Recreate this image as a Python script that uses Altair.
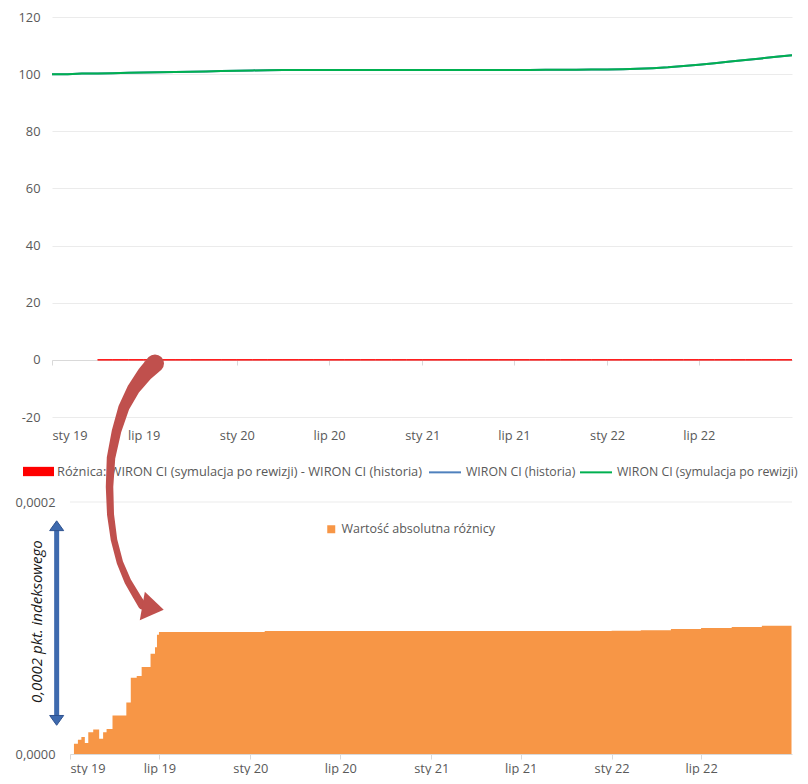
import altair as alt
import pandas as pd

FONT = "Open Sans"
TEXT_GRAY = "#595959"
GRID = "#EBEBEB"
AXIS_GRAY = "#D9D9D9"
RED = "#FF0000"
BLUE = "#4F81BD"
GREEN = "#00B050"
ORANGE = "#F79646"
ARROW_RED = "#C0504D"
ARROW_BLUE = "#3E6AAE"

SERIES_DIFF = "Różnica: WIRON CI (symulacja po rewizji) - WIRON CI (historia)"
SERIES_HIST = "WIRON CI (historia)"
SERIES_SIM = "WIRON CI (symulacja po rewizji)"
SERIES_ABS = "Wartość absolutna różnicy"
NOTE_TEXT = "0,0002 pkt. indeksowego"

# ---- data ----
INDEX_DATES = [d.strftime("%Y-%m-%d") for d in pd.date_range("2019-01-01", "2023-01-01", freq="MS")]
SIM_VALUES = [100.00, 100.00, 100.20, 100.20, 100.35, 100.45, 100.60, 100.65, 100.75, 100.85, 100.95, 101.10,
              101.15, 101.30, 101.40, 101.42, 101.43, 101.44, 101.44, 101.45, 101.45, 101.45, 101.46, 101.46,
              101.46, 101.47, 101.47, 101.47, 101.48, 101.48, 101.48, 101.49, 101.50, 101.52, 101.55, 101.60,
              101.65, 101.75, 101.90, 102.10, 102.40, 102.85, 103.30, 103.85, 104.40, 104.95, 105.50, 106.05, 106.60]
HIST_VALUES = [100.00, 100.00, 100.20, 100.20, 100.35, 100.45, 100.60, 100.65, 100.75, 100.85, 100.95, 101.10,
               101.15, 101.30, 101.40, 101.42, 101.43, 101.44, 101.44, 101.45, 101.45, 101.45, 101.46, 101.46,
               101.46, 101.47, 101.47, 101.47, 101.48, 101.48, 101.48, 101.49, 101.50, 101.52, 101.55, 101.60,
               101.65, 101.75, 101.90, 102.10, 102.40, 102.85, 103.30, 103.85, 104.40, 104.95, 105.50, 106.05, 106.60]

DIFF_DATES = [d.strftime("%Y-%m-%d") for d in pd.date_range("2019-04-01", "2023-01-01", freq="MS")]
DIFF_VALUES = [3.05e-5, 4.09e-5, 6.90e-5, 9.69e-5,
               9.69e-5, 9.69e-5, 9.69e-5, 9.69e-5, 9.69e-5, 9.69e-5,
               9.76e-5, 9.76e-5, 9.76e-5, 9.76e-5, 9.76e-5, 9.76e-5, 9.76e-5, 9.77e-5, 9.77e-5, 9.77e-5,
               9.77e-5, 9.77e-5, 9.77e-5, 9.77e-5, 9.78e-5, 9.78e-5, 9.78e-5, 9.78e-5, 9.78e-5, 9.79e-5,
               9.79e-5, 9.79e-5, 9.79e-5,
               9.79e-5, 9.80e-5, 9.82e-5, 9.87e-5, 9.92e-5, 9.96e-5, 1.000e-4, 1.004e-4, 1.008e-4,
               1.013e-4, 1.018e-4, 1.022e-4, 1.026e-4]

ABS_DATES = ["2019-01-09", "2019-01-17", "2019-01-24", "2019-01-31", "2019-02-07", "2019-02-17",
             "2019-03-01", "2019-03-09", "2019-03-16", "2019-03-28", "2019-04-25", "2019-05-04",
             "2019-05-16", "2019-05-26", "2019-06-13", "2019-06-22", "2019-06-26", "2019-06-30",
             "2020-01-30", "2021-06-01", "2022-01-01", "2022-03-01", "2022-05-01", "2022-07-01",
             "2022-09-01", "2022-11-01", "2022-12-31"]
ABS_VALUES = [8.1e-6, 1.13e-5, 1.34e-5, 8.7e-6, 1.73e-5, 1.94e-5,
              1.21e-5, 1.73e-5, 1.99e-5, 3.05e-5, 4.09e-5, 6.06e-5,
              6.19e-5, 6.90e-5, 7.95e-5, 8.48e-5, 9.47e-5, 9.69e-5,
              9.76e-5, 9.77e-5, 9.79e-5, 9.82e-5, 9.92e-5, 1.000e-4,
              1.008e-4, 1.018e-4, 1.026e-4]

TICK_MONTHS = [(2019, 1), (2019, 7), (2020, 1), (2020, 7), (2021, 1), (2021, 7), (2022, 1), (2022, 7)]
MONTH_LABELS = {1: "sty", 7: "lip"}
TOP_Y_TICKS = [-20, 0, 20, 40, 60, 80, 100, 120]
BOTTOM_Y_TICKS = [0, 0.0002]

# annotations (data coordinates of the lower panel)
BLUE_ARROW_DATE = "2018-12-05"
BLUE_SHAFT = (1.780e-4, 2.99e-5)
BLUE_HEADS = [(1.8118e-4, "M-1,0.7L0,-0.7L1,0.7Z"), (2.669e-5, "M-1,-0.7L0,0.7L1,-0.7Z")]
NOTE_POS = ("2018-10-27", 1.051e-4)
RED_PATH_DATES = ["2019-06-22", "2019-06-02", "2019-05-10", "2019-04-20", "2019-04-05", "2019-03-25",
                  "2019-03-22", "2019-03-24", "2019-03-31", "2019-04-12", "2019-04-28", "2019-05-16",
                  "2019-05-27"]
RED_PATH_VALUES = [3.100e-4, 3.020e-4, 2.900e-4, 2.750e-4, 2.560e-4, 2.350e-4,
                   2.120e-4, 1.900e-4, 1.700e-4, 1.520e-4, 1.370e-4, 1.250e-4, 1.180e-4]
RED_PATH_WIDTH = [18, 15.5, 13, 11, 9.5, 8.5, 7.5, 7, 6.5, 6.5, 7, 7.5, 8]
RED_HEAD = ("2019-06-18", 1.160e-4)

# ---- helpers ----
DOMAIN_START = alt.DateTime(year=2019, month=1, date=1, utc=True)
DOMAIN_END = alt.DateTime(year=2023, month=1, date=1, utc=True)
TICKS = [alt.DateTime(year=y, month=m, date=1, utc=True) for y, m in TICK_MONTHS]
LABEL_EXPR = ("(utcFormat(datum.value, '%m') == '01' ? '" + MONTH_LABELS[1] + "' : '" + MONTH_LABELS[7]
              + "') + ' ' + utcFormat(datum.value, '%y')")

label_style = dict(labelColor=TEXT_GRAY, labelFont=FONT, labelFontSize=12.8)
legend_style = dict(title=None, orient="none", labelColor=TEXT_GRAY, labelFont=FONT,
                    labelLimit=600, padding=0)

# ---- top panel ----
top_x = alt.X("date:T",
              scale=alt.Scale(type="utc", domain=[DOMAIN_START, DOMAIN_END]),
              axis=alt.Axis(values=TICKS, labelExpr=LABEL_EXPR, title=None, grid=False, offset=-57,
                            tickSize=5, tickColor=AXIS_GRAY, domainColor=AXIS_GRAY, labelPadding=64,
                            **label_style))
top_y = alt.Y("value:Q",
              scale=alt.Scale(domain=[-20, 120], nice=False, zero=False),
              axis=alt.Axis(values=TOP_Y_TICKS, title=None, domain=False, ticks=False, grid=True,
                            gridColor=GRID, labelPadding=12, labelExpr="'' + datum.value", **label_style))

diff_df = pd.DataFrame({"date": DIFF_DATES, "value": DIFF_VALUES, "series": SERIES_DIFF})
lines_df = pd.concat([
    pd.DataFrame({"date": INDEX_DATES, "value": HIST_VALUES, "series": SERIES_HIST}),
    pd.DataFrame({"date": INDEX_DATES, "value": SIM_VALUES, "series": SERIES_SIM}),
])

diff_layer = alt.Chart(diff_df).mark_area(interpolate="step-after", stroke=RED, strokeWidth=1).encode(
    x=top_x, y=top_y,
    fill=alt.Fill("series:N", scale=alt.Scale(domain=[SERIES_DIFF], range=[RED]),
                  legend=alt.Legend(legendX=-29, legendY=439, symbolType="M-1,-0.3H1V0.3H-1Z",
                                    symbolSize=961, symbolStrokeWidth=0, labelOffset=3, labelFontSize=12.8,
                                    **legend_style)),
)
line_layer = alt.Chart(lines_df).mark_line(strokeWidth=2).encode(
    x="date:T", y="value:Q",
    stroke=alt.Stroke("series:N", scale=alt.Scale(domain=[SERIES_HIST, SERIES_SIM], range=[BLUE, GREEN]),
                      legend=alt.Legend(legendX=376, legendY=438, direction="horizontal", symbolType="stroke",
                                        symbolSize=1024, symbolStrokeWidth=2, columnPadding=0, labelOffset=4,
                                        labelFontSize=12.3, **legend_style)),
)
top = alt.layer(diff_layer, line_layer).properties(width=740, height=400)

# ---- bottom panel ----
bot_x = alt.X("date:T",
              scale=alt.Scale(type="utc", domain=[DOMAIN_START, DOMAIN_END], range=[18, 740]),
              axis=alt.Axis(values=TICKS, labelExpr=LABEL_EXPR, title=None, grid=False, tickSize=5,
                            tickColor=AXIS_GRAY, domainColor=AXIS_GRAY, labelPadding=3, **label_style))
bot_y = alt.Y("value:Q",
              scale=alt.Scale(domain=BOTTOM_Y_TICKS, nice=False),
              axis=alt.Axis(values=BOTTOM_Y_TICKS, title=None, domain=False, ticks=False, grid=False,
                            offset=-18, labelPadding=15,
                            labelExpr="replace(format(datum.value, '.4f'), '.', ',')", **label_style))

grid_df = pd.DataFrame({"value": [BOTTOM_Y_TICKS[-1]], "date": ["2019-01-01"], "date2": ["2023-01-01"]})
grid_layer = alt.Chart(grid_df).mark_rule(color=GRID, strokeWidth=1).encode(x=bot_x, x2="date2:T", y=bot_y)

abs_df = pd.DataFrame({"date": ABS_DATES, "value": ABS_VALUES, "series": SERIES_ABS})
abs_layer = alt.Chart(abs_df).mark_area(interpolate="step-after").encode(
    x="date:T", y="value:Q",
    fill=alt.Fill("series:N", scale=alt.Scale(domain=[SERIES_ABS], range=[ORANGE]),
                  legend=alt.Legend(legendX=273, legendY=21, symbolType="square", symbolSize=64,
                                    labelOffset=4, labelFontSize=12.5, **legend_style)),
)

shaft_df = pd.DataFrame({"date": [BLUE_ARROW_DATE], "value": [BLUE_SHAFT[0]], "value2": [BLUE_SHAFT[1]]})
shaft_layer = alt.Chart(shaft_df).mark_rule(color=ARROW_BLUE, strokeWidth=5).encode(
    x="date:T", y="value:Q", y2="value2:Q")
heads_df = pd.DataFrame({"date": [BLUE_ARROW_DATE] * 2, "value": [h[0] for h in BLUE_HEADS],
                         "shape": [h[1] for h in BLUE_HEADS]})
heads_layer = alt.Chart(heads_df).mark_point(filled=True, size=196, opacity=1, color=ARROW_BLUE,
                                             stroke="#2F528F", strokeWidth=1).encode(
    x="date:T", y="value:Q", shape=alt.Shape("shape:N", scale=None, legend=None))

note_df = pd.DataFrame({"date": [NOTE_POS[0]], "value": [NOTE_POS[1]], "text": [NOTE_TEXT]})
note_layer = alt.Chart(note_df).mark_text(angle=270, font=FONT, fontSize=15, fontStyle="italic",
                                          color="#1A1A1A", align="center", baseline="middle").encode(
    x="date:T", y="value:Q", text="text:N")

red_df = pd.DataFrame({"date": RED_PATH_DATES, "value": RED_PATH_VALUES, "w": RED_PATH_WIDTH,
                       "i": list(range(len(RED_PATH_DATES)))})
red_layer = alt.Chart(red_df).mark_trail(color=ARROW_RED, opacity=1).encode(
    x="date:T", y="value:Q", size=alt.Size("w:Q", scale=None, legend=None), order="i:Q")
red_head_df = pd.DataFrame({"date": [RED_HEAD[0]], "value": [RED_HEAD[1]]})
red_head_layer = alt.Chart(red_head_df).mark_point(filled=True, shape="M-0.75,-1L0.75,0L-0.75,1Z", size=841,
                                                   angle=10, color=ARROW_RED, opacity=1).encode(
    x="date:T", y="value:Q")

bottom = alt.layer(grid_layer, abs_layer, shaft_layer, heads_layer, note_layer, red_layer,
                   red_head_layer).properties(width=740, height=252)

chart = alt.vconcat(top, bottom, spacing=85, bounds="flush").resolve_scale(
    fill="independent", stroke="independent").resolve_legend(
    fill="independent", stroke="independent").properties(
    padding={"left": 7, "top": 3, "right": 0, "bottom": 0}, background="white"
).configure_view(stroke=None)

chart.save("out.html", embed_options={"renderer": "svg", "actions": False})
